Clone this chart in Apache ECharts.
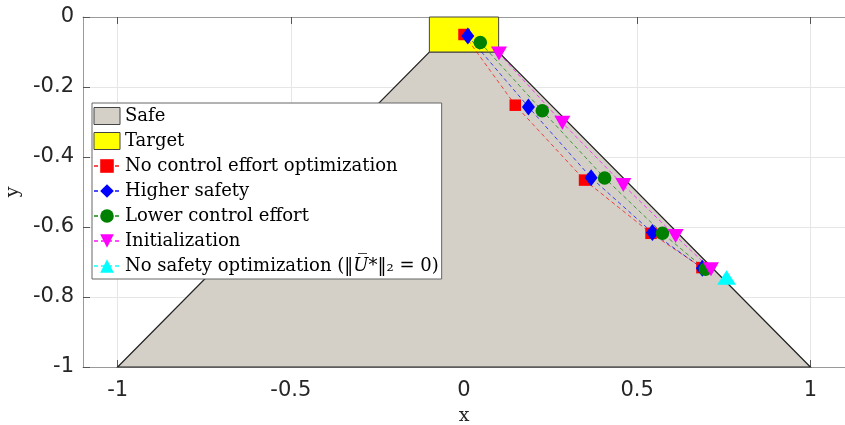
<!DOCTYPE html>
<html>
<head>
<meta charset="utf-8">
<script src="https://cdn.jsdelivr.net/npm/echarts@6/dist/echarts.min.js"></script>
<style>
html,body{margin:0;padding:0;background:#fff;}
#chart{width:845px;height:425px;}
</style>
</head>
<body>
<div id="chart"></div>
<script>
// ---- data ----
const xTicks = [-1, -0.5, 0, 0.5, 1];
const yTicks = [0, -0.2, -0.4, -0.6, -0.8, -1];

const safeX = [-1, -0.1, 0.1, 1];
const safeY = [-1, -0.1, -0.1, -1];
const targetX = [-0.1, -0.1, 0.1, 0.1];
const targetY = [-0.1, 0, 0, -0.1];

const noCtrlX = [0, 0.148, 0.348, 0.54, 0.687];
const noCtrlY = [-0.05, -0.252, -0.466, -0.618, -0.716];
const highSafeX = [0.011, 0.186, 0.367, 0.544, 0.688];
const highSafeY = [-0.054, -0.257, -0.459, -0.616, -0.718];
const lowEffX = [0.047, 0.226, 0.406, 0.573, 0.697];
const lowEffY = [-0.073, -0.268, -0.46, -0.618, -0.721];
const initX = [0.101, 0.284, 0.46, 0.611, 0.713];
const initY = [-0.104, -0.302, -0.48, -0.626, -0.721];
const noSafeX = [0.758];
const noSafeY = [-0.744];

const seriesNames = ['Safe', 'Target', 'No control effort optimization', 'Higher safety',
  'Lower control effort', 'Initialization', 'No safety optimization'];

// ---- chart ----
const chart = echarts.init(document.getElementById('chart'), null, {renderer: 'canvas'});
const zip = (xs, ys) => xs.map((x, i) => [x, ys[i]]);

function polySeries(name, xs, ys, fill, stroke, lw) {
  return {
    name: name,
    type: 'custom',
    coordinateSystem: 'cartesian2d',
    xAxisIndex: 0, yAxisIndex: 0,
    itemStyle: {color: fill, borderColor: stroke, borderWidth: 1},
    encode: {x: 0, y: 1},
    data: zip(xs, ys),
    silent: true,
    renderItem: function (params, api) {
      if (params.dataIndex !== 0) return null;
      const pts = xs.map((x, i) => api.coord([x, ys[i]]));
      return {
        type: 'polygon',
        shape: {points: pts},
        style: {fill: fill, stroke: stroke, lineWidth: lw}
      };
    }
  };
}

function markerSeries(name, xs, ys, color, symbol, size, rotate) {
  return {
    name: name,
    type: 'line',
    xAxisIndex: 0, yAxisIndex: 0,
    data: zip(xs, ys),
    symbol: symbol,
    symbolSize: size,
    symbolRotate: rotate || 0,
    showSymbol: true,
    showAllSymbol: true,
    itemStyle: {color: color, opacity: 1},
    lineStyle: {color: color, width: 1, type: [4, 3], opacity: 0.7},
    emphasis: {disabled: true},
    silent: true,
    z: 3
  };
}

const axisLabelStyle = {fontFamily: 'DejaVu Sans', fontSize: 21, color: '#262626'};

const option = {
  animation: false,
  backgroundColor: '#ffffff',
  grid: {left: 83, right: 0, top: 17, bottom: 58, containLabel: false, outerBoundsMode: 'none'},
  xAxis: [{
    type: 'value', min: -1.1, max: 1.1, position: 'bottom',
    name: 'x', nameLocation: 'middle', nameGap: 40,
    nameTextStyle: {fontFamily: 'DejaVu Serif', fontSize: 19, color: '#262626'},
    axisLine: {show: true, onZero: false, lineStyle: {color: '#9a9a9a', width: 1}},
    axisTick: {show: true, inside: true, length: 7, customValues: xTicks, lineStyle: {color: '#555'}},
    axisLabel: Object.assign({customValues: xTicks, margin: 13, formatter: v => String(v)}, axisLabelStyle),
    splitLine: {show: true, lineStyle: {color: '#e6e6e6', width: 1}}
  }, {
    type: 'value', min: -1.1, max: 1.1, position: 'top',
    axisLine: {show: true, onZero: false, lineStyle: {color: '#9a9a9a', width: 1}},
    axisTick: {show: true, inside: true, length: 7, customValues: xTicks, lineStyle: {color: '#555'}},
    axisLabel: {show: false},
    splitLine: {show: false}
  }],
  yAxis: [{
    type: 'value', min: -1, max: 0, position: 'left',
    name: 'y', nameLocation: 'middle', nameGap: 60,
    nameTextStyle: {fontFamily: 'DejaVu Serif', fontSize: 19, color: '#262626'},
    axisLine: {show: true, onZero: false, lineStyle: {color: '#9a9a9a', width: 1}},
    axisTick: {show: true, inside: true, length: 7, customValues: yTicks, lineStyle: {color: '#555'}},
    axisLabel: Object.assign({customValues: yTicks, margin: 9, formatter: v => String(v)}, axisLabelStyle),
    splitLine: {show: true, lineStyle: {color: '#e6e6e6', width: 1}}
  }],
  legend: {
    show: true,
    orient: 'vertical',
    left: 92, top: 103,
    padding: [4, 3, 4, 1],
    itemWidth: 26, itemHeight: 17, itemGap: 7,
    backgroundColor: '#ffffff',
    borderColor: '#666666', borderWidth: 1,
    selectedMode: false,
    textStyle: {
      fontFamily: 'DejaVu Serif', fontSize: 18, color: '#000',
      rich: {
        i: {fontFamily: 'DejaVu Serif', fontStyle: 'italic', fontSize: 18, color: '#000'}
      }
    },
    formatter: function (name) {
      if (name === 'No safety optimization') {
        return 'No safety optimization (\u2016{i|U\u0305}*\u2016\u2082 = 0)';
      }
      return name;
    },
    data: [
      {name: seriesNames[0], icon: 'rect', itemStyle: {color: '#d4d0c8', borderColor: '#444', borderWidth: 1}},
      {name: seriesNames[1], icon: 'rect', itemStyle: {color: '#ffff00', borderColor: '#444', borderWidth: 1}},
      {name: seriesNames[2]},
      {name: seriesNames[3]},
      {name: seriesNames[4]},
      {name: seriesNames[5]},
      {name: seriesNames[6]}
    ]
  },
  series: [
    polySeries(seriesNames[0], safeX, safeY, '#d4d0c8', '#222222', 1.2),
    polySeries(seriesNames[1], targetX, targetY, '#ffff00', '#444444', 1),
    markerSeries(seriesNames[2], noCtrlX, noCtrlY, '#ff0000', 'rect', [11.5, 11.5]),
    markerSeries(seriesNames[3], highSafeX, highSafeY, '#0000ff', 'diamond', [13, 17]),
    markerSeries(seriesNames[4], lowEffX, lowEffY, '#008000', 'circle', 13.5),
    markerSeries(seriesNames[5], initX, initY, '#ff00ff', 'triangle', [16, 14], 180),
    markerSeries(seriesNames[6], noSafeX, noSafeY, '#00ffff', 'triangle', [19, 14.5])
  ]
};
chart.setOption(option);
</script>
</body>
</html>
